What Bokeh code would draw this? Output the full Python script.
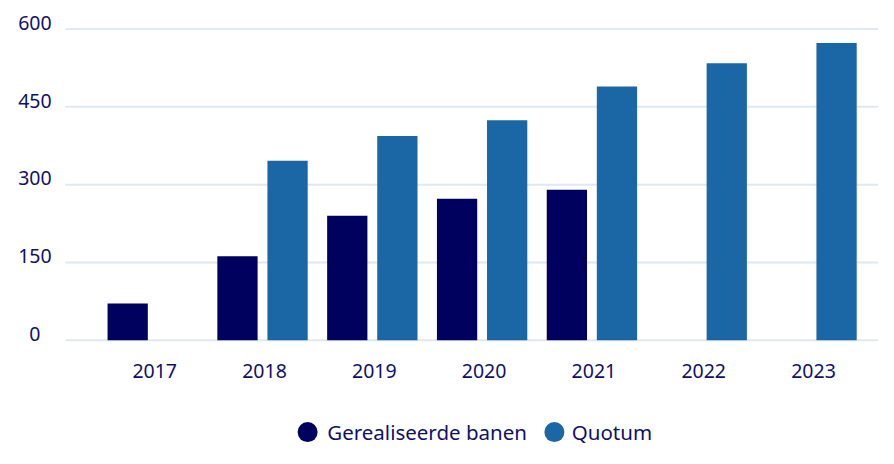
from bokeh.plotting import figure
from bokeh.models import Range1d, ColumnDataSource
from bokeh.core.properties import value
from bokeh.transform import dodge
from bokeh.embed import file_html
from bokeh.resources import INLINE

# ---- data ----
years = ["2017", "2018", "2019", "2020", "2021", "2022", "2023"]
gerealiseerd = [71, 162, 240, 273, 290, None, None]
quotum = [None, 346, 394, 424, 489, 534, 573]
y_ticks = [0, 150, 300, 450, 600]
series_names = ["Gerealiseerde banen", "Quotum"]

# ---- style ----
DARK = "#00005f"
BLUE = "#1b66a4"
TEXT = "#10106a"
GRID = "#e0e8f0"
FONT = "Noto Sans"

W, H = 878, 448
REF_W, REF_H = 894, 464
# layout mapping (reference px -> data)
X0_PX, X_UNIT = 155.0, 111.8     # x of first category, px per category
Y0_PX, Y_UNIT = 352.0, 0.5375    # y of value 0, px per unit
def dx(sx):
    return (sx - X0_PX) / X_UNIT
def dy(sy):
    return (Y0_PX - sy) / Y_UNIT

p = figure(width=W, height=H, output_backend="svg", toolbar_location=None,
           x_axis_location=None, y_axis_location=None, min_border=0,
           x_range=Range1d(dx(0), dx(REF_W)), y_range=Range1d(dy(REF_H), dy(0)))
p.outline_line_color = None
p.grid.visible = False
p.background_fill_color = "white"
p.border_fill_color = "white"

idx = list(range(len(years)))
nan = float("nan")
src = ColumnDataSource(dict(
    x=idx,
    g=[nan if v is None else v for v in gerealiseerd],
    q=[nan if v is None else v for v in quotum],
    label=years,
))

# grid lines
p.segment(x0=[dx(66)] * len(y_ticks), y0=y_ticks, x1=[dx(REF_W)] * len(y_ticks), y1=y_ticks,
          line_color=GRID, line_width=2)

off = 25.5 / X_UNIT
bw = 41 / X_UNIT
p.vbar(x=dodge("x", -off, range=p.x_range), top="g", bottom=0, width=bw, source=src,
       fill_color=DARK, line_color=None)
p.vbar(x=dodge("x", off, range=p.x_range), top="q", bottom=0, width=bw, source=src,
       fill_color=BLUE, line_color=None)

# y tick labels (sit just above their grid line)
p.text(x=[dx(35)] * len(y_ticks), y=[t + 6.5 / Y_UNIT for t in y_ticks],
       text=[str(t) for t in y_ticks],
       text_align="center", text_baseline="middle",
       text_font=value(FONT), text_font_size="19.5px", text_color=TEXT)

# x tick labels
p.text(x=dodge("x", 2 / X_UNIT, range=p.x_range), y=dy(383.5), text="label", source=src,
       text_align="center", text_baseline="middle",
       text_font=value(FONT), text_font_size="19.5px", text_color=TEXT)

# legend
ly = dy(447)
p.scatter(x=[dx(312.7), dx(564)], y=[ly, ly], size=20, marker="circle",
          fill_color=[DARK, BLUE], line_color=None)
p.text(x=[dx(332.7), dx(581.7)], y=[ly, ly], text=series_names,
       text_align="left", text_baseline="middle",
       text_font=value(FONT), text_font_size="20.5px", text_color=TEXT)

open("out.html", "w").write(file_html(p, INLINE))
